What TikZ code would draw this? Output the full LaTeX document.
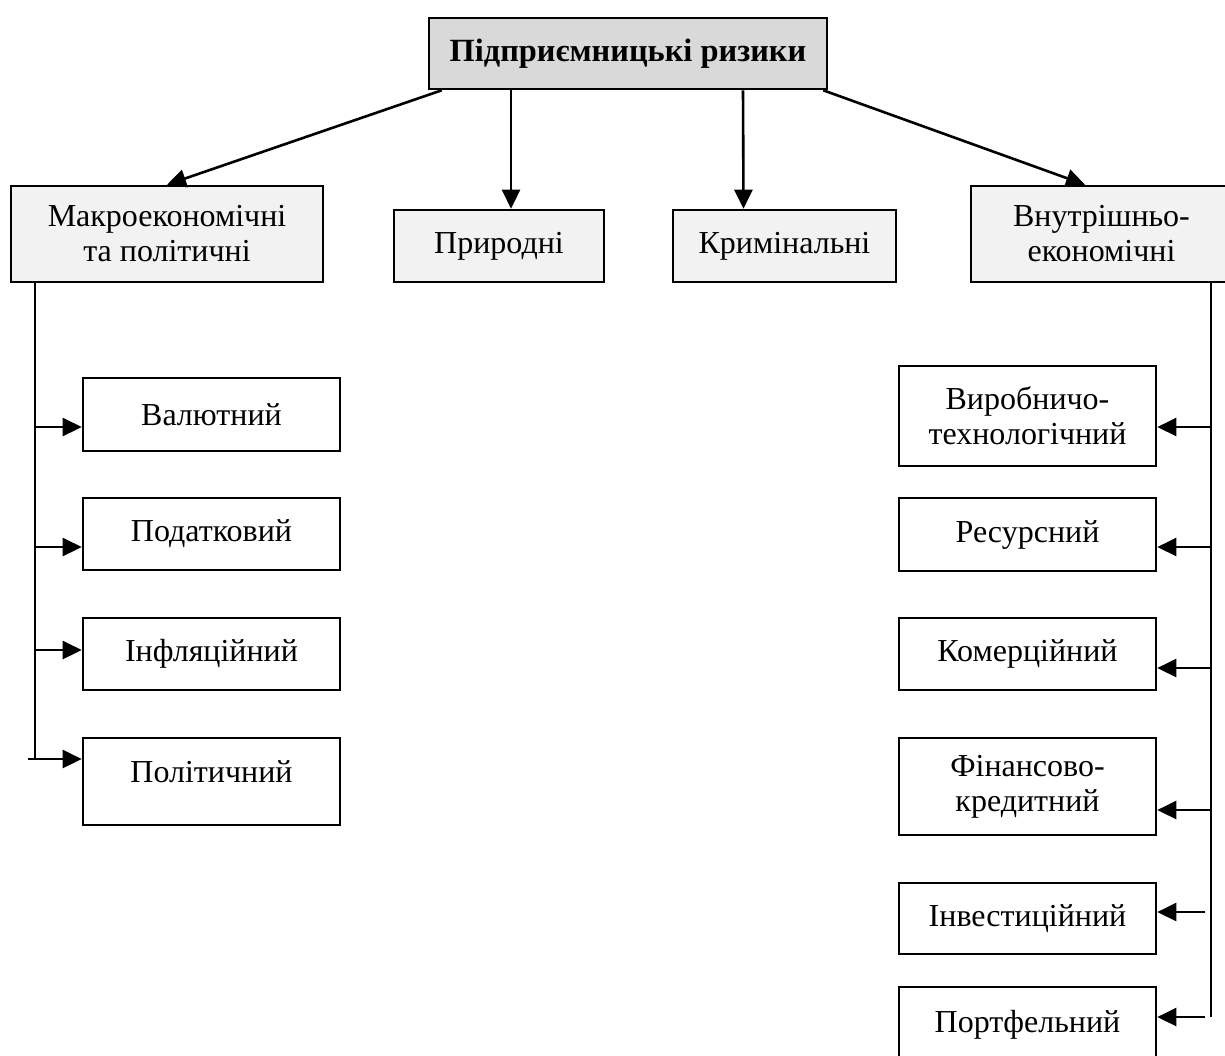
\documentclass[tikz,border=0pt]{standalone}
\usepackage{fontspec}
\setmainfont{Liberation Serif}
\usetikzlibrary{arrows.meta}
\definecolor{kopfgrau}{RGB}{217,217,217}
\definecolor{gruppengrau}{RGB}{242,242,242}

\begin{document}
\begin{tikzpicture}[x=0.5pt, y=-0.5pt, line width=1.3pt,
    feld/.style={draw, line width=1.3pt, inner sep=0pt, align=center, font=\fontsize{16}{17.5}\selectfont},
    kopf/.style={feld, fill=kopfgrau, font=\fontsize{16.2}{18}\selectfont\bfseries},
    gruppe/.style={feld, fill=gruppengrau},
    art/.style={feld, fill=white, minimum width=128.5pt},
    pfeil/.style={-{Triangle[length=9.5pt,width=9pt]}}]

    \useasboundingbox (0,0) rectangle (1225,1055);

    \node[kopf, minimum width=199pt, minimum height=35.5pt] (risiko) at (628,53.5) {Підприємницькі ризики};

    \node[gruppe, minimum width=156pt, minimum height=48pt] (makro) at (167,234) {Макроекономічні\\та політичні};
    \node[gruppe, minimum width=105pt, minimum height=36pt] (pryrod) at (499,246) {Природні};
    \node[gruppe, minimum width=111.5pt, minimum height=36pt] (krym) at (784.5,246) {Кримінальні};
    \node[gruppe, minimum width=130.5pt, minimum height=48pt] (vnutr) at (1101.5,234) {Внутрішньо-\\економічні};

    \draw[pfeil] ([xshift=7pt]risiko.south west) -- (makro.north);
    \draw[pfeil] ([xshift=-58.5pt]risiko.south) -- ([xshift=6pt]pryrod.north);
    \draw[pfeil] ([xshift=57.5pt]risiko.south) -- ([xshift=-20.5pt]krym.north);
    \draw[pfeil] ([xshift=-2.5pt]risiko.south east) -- ([xshift=-8.25pt]vnutr.north);

    % makro
    \node[art, minimum height=36.5pt] (val) at (211.5,414.5) {Валютний};
    \node[art, minimum height=36pt] (podat) at (211.5,534) {Податковий};
    \node[art, minimum height=36pt] (infl) at (211.5,654) {Інфляційний};
    \node[art, minimum height=43.5pt] (polit) at (211.5,781.5) {\raisebox{4.75pt}[\height][\depth]{Політичний}};

    \coordinate (lende) at (35,760);
    \draw (makro.south -| lende) -- (lende);
    \foreach \y/\n/\x in {427/val/35, 547/podat/35, 650/infl/35, 759/polit/28}{
        \coordinate (start) at (\x,\y);
        \draw[pfeil] (start) -- (start -| \n.west);
    }

    % innen
    \node[art, minimum height=50pt] (vyrob) at (1027.5,416) {Виробничо-\\технологічний};
    \node[art, minimum height=36.5pt] (resurs) at (1027.5,534.5) {Ресурсний};
    \node[art, minimum height=36pt] (komerc) at (1027.5,654) {Комерційний};
    \node[art, minimum height=48.5pt] (finans) at (1027.5,786.5) {Фінансово-\\кредитний};
    \node[art, minimum height=35.5pt] (invest) at (1027.5,918.5) {Інвестиційний};
    \node[art, minimum height=37.5pt] (portf) at (1027.5,1024.5) {Портфельний};

    \coordinate (rende) at (1211,1017);
    \draw (vnutr.south -| rende) -- (rende);
    \foreach \y/\n/\x in {427/vyrob/1211, 547/resurs/1211, 668/komerc/1211, 810/finans/1211, 912/invest/1205, 1017/portf/1205}{
        \coordinate (start) at (\x,\y);
        \draw[pfeil] (start) -- (start -| \n.east);
    }

\end{tikzpicture}
\end{document}
